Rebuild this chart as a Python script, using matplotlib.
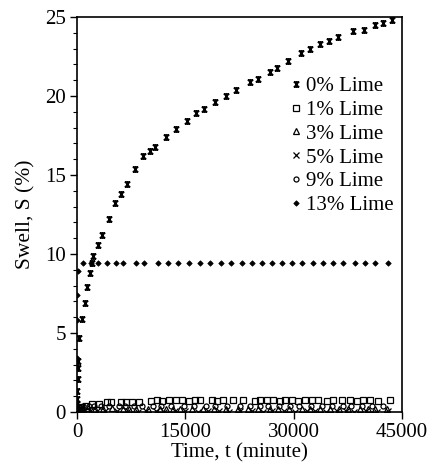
import matplotlib
matplotlib.use("Agg")
import matplotlib.pyplot as plt
from matplotlib.path import Path

plt.rcParams['font.family'] = ['Liberation Serif', 'DejaVu Serif']

# ---- data ----
t_0 = [0, 20, 40, 60, 100, 150, 200, 320, 650, 1110, 1430, 1800, 2030, 2260,
       2950, 3420, 4480, 5260, 6050, 6880, 8030, 9190, 10110, 10800, 12330,
       13710, 15190, 16480, 17590, 19110, 20640, 22020, 23960, 25020, 26730,
       27660, 29270, 30980, 32280, 33660, 34950, 36190, 38270, 39750, 41270,
       42340, 43630]
s_0 = [0.0, 0.5, 0.8, 1.3, 2.1, 2.8, 3.2, 4.7, 5.9, 6.9, 7.9, 8.8, 9.4, 9.9,
       10.6, 11.2, 12.2, 13.2, 13.8, 14.4, 15.4, 16.2, 16.5, 16.8, 17.4,
       17.9, 18.4, 18.9, 19.15, 19.6, 20.0, 20.4, 20.9, 21.1, 21.5,
       21.8, 22.2, 22.7, 23.0, 23.3, 23.5, 23.75, 24.1, 24.2, 24.5,
       24.6, 24.8]

t_1 = [0, 60, 200, 510, 1200, 2120, 3050, 4200, 4670, 6050, 6740, 7660, 8590,
       10210, 11120, 11810, 12740, 13670, 14580, 15510, 16340, 17040, 18660,
       19350, 20260, 21650, 23040, 24650, 25350, 26270, 27190, 28120, 28810,
       29730, 30650, 31580, 32500, 33420, 34580, 35500, 36660, 37810, 38740,
       39650, 40580, 41730, 43350]
s_1 = [0.0, 0.15, 0.25, 0.34, 0.36, 0.49, 0.5, 0.62, 0.65, 0.65, 0.66, 0.65,
       0.66, 0.72, 0.74, 0.72, 0.74, 0.74, 0.74, 0.72, 0.74, 0.74, 0.74,
       0.72, 0.74, 0.74, 0.74, 0.72, 0.74, 0.74, 0.74, 0.72, 0.74,
       0.74, 0.72, 0.74, 0.74, 0.74, 0.72, 0.74, 0.74, 0.74, 0.72,
       0.74, 0.74, 0.72, 0.74]

t_3 = [0, 80, 300, 700, 1500, 2500, 3600, 4900, 6300, 7200, 8100, 9800, 11500,
       12300, 13300, 14300, 15900, 17500, 18900, 20600, 22300, 23700, 25000,
       26700, 27800, 29300, 31100, 32200, 33700, 35100, 36300, 37500, 39200,
       40300, 41300, 42900]
s_3 = [0.0, 0.1, 0.18, 0.22, 0.25, 0.2, 0.22, 0.25, 0.2, 0.22, 0.2, 0.22, 0.2,
       0.22, 0.2, 0.18, 0.22, 0.2, 0.22, 0.2, 0.22, 0.18, 0.2, 0.22,
       0.2, 0.22, 0.2, 0.18, 0.22, 0.2, 0.22, 0.2, 0.2, 0.22, 0.2, 0.2]

t_5 = [0, 40, 150, 400, 900, 1800, 2800, 3900, 5500, 7000, 8400, 9500, 10900,
       12000, 13500, 15000, 16700, 18200, 19600, 21000, 22600, 24200, 25800,
       27000, 28600, 30200, 31800, 33000, 34500, 36000, 37200, 38400, 40000,
       41500, 43000]
s_5 = [0.0, 0.05, 0.1, 0.12, 0.1, 0.08, 0.05, 0.05, 0.04, 0.05, 0.03, 0.05,
       0.04, 0.03, 0.05, 0.04, 0.03, 0.05, 0.04, 0.03, 0.05, 0.04, 0.03,
       0.05, 0.04, 0.03, 0.05, 0.04, 0.03, 0.05, 0.04, 0.03, 0.04, 0.03, 0.04]

t_9 = [0, 100, 400, 800, 1600, 2400, 3300, 4400, 5800, 6600, 7900, 9000,
       10500, 11600, 13000, 14800, 16200, 17800, 19100, 20800, 22500, 23900,
       25300, 26500, 28000, 29500, 30800, 32400, 33900, 35300, 36800, 38000,
       39400, 40900, 42400]
s_9 = [0.0, 0.2, 0.3, 0.35, 0.38, 0.4, 0.35, 0.4, 0.38, 0.36, 0.4, 0.38,
       0.36, 0.4, 0.38, 0.36, 0.4, 0.38, 0.36, 0.4, 0.38, 0.36, 0.4, 0.38,
       0.36, 0.4, 0.38, 0.36, 0.4, 0.38, 0.36, 0.4, 0.38, 0.36, 0.38]

t_13 = [0, 15, 30, 60, 140, 870, 1980, 2910, 4200, 5360, 6370, 8210, 9280,
        11220, 12600, 14030, 15510, 16990, 18420, 19900, 21370, 22780, 24190,
        25570, 26960, 28340, 29730, 31110, 32720, 34100, 35490, 36870, 38490,
        39880, 41260, 43100]
s_13 = [0.0, 3.4, 5.8, 7.4, 8.9, 9.4, 9.4, 9.4, 9.4, 9.4, 9.4, 9.4, 9.4,
        9.4, 9.4, 9.4, 9.4, 9.4, 9.4, 9.4, 9.4, 9.4, 9.4,
        9.4, 9.4, 9.4, 9.4, 9.4, 9.4, 9.4, 9.4, 9.4, 9.4,
        9.4, 9.4, 9.4]

labels = ['0% Lime', '1% Lime', '3% Lime', '5% Lime', '9% Lime', '13% Lime']

# star marker (x with a vertical bar), like the spreadsheet "star"
star = Path([(-1, -1), (1, 1), (-1, 1), (1, -1), (0, -1), (0, 1),
             (-1, 1), (1, 1), (-1, -1), (1, -1)],
            [Path.MOVETO, Path.LINETO, Path.MOVETO, Path.LINETO,
             Path.MOVETO, Path.LINETO, Path.MOVETO, Path.LINETO,
             Path.MOVETO, Path.LINETO])

fig = plt.figure(figsize=(4.31, 4.76), dpi=100)
ax = fig.add_axes([0.1787, 0.1345, 0.7540, 0.8298])

ax.plot(t_0, s_0, ls='none', marker=star, ms=3.8, mec='black', mew=1.0,
        mfc='none', label=labels[0])
ax.plot(t_1, s_1, ls='none', marker='s', ms=3.8, mec='black', mew=0.9,
        mfc='none', label=labels[1])
ax.plot(t_3, s_3, ls='none', marker='^', ms=3.8, mec='black', mew=0.9,
        mfc='none', label=labels[2])
ax.plot(t_5, s_5, ls='none', marker='x', ms=3.8, mec='black', mew=0.9,
        label=labels[3])
ax.plot(t_9, s_9, ls='none', marker='o', ms=3.6, mec='black', mew=0.9,
        mfc='none', label=labels[4])
ax.plot(t_13, s_13, ls='none', marker='D', ms=2.8, mec='black', mfc='black',
        mew=0.5, label=labels[5])

ax.set_xlim(0, 45000)
ax.set_ylim(0, 25)
ax.set_xticks([0, 15000, 30000, 45000])
ax.set_yticks([0, 5, 10, 15, 20, 25])
ax.set_yticks(range(0, 26), minor=True)
ax.tick_params(axis='both', which='major', direction='out', length=5,
               width=1, labelsize=15, pad=3, top=False, right=False)
ax.tick_params(axis='y', which='minor', direction='out', length=3, width=0.8)
for sp in ax.spines.values():
    sp.set_linewidth(1.2)

ax.set_xlabel('Time, t (minute)', fontsize=15, labelpad=1)
ax.set_ylabel('Swell, S (%)', fontsize=15.5, labelpad=7)

ax.legend(loc='upper right', bbox_to_anchor=(1.0, 0.87), frameon=False,
          fontsize=15, handlelength=0.6, handletextpad=0.2,
          labelspacing=0.2, borderpad=0.2, borderaxespad=0.2, markerscale=1.0)

fig.savefig('out.png', dpi=100)
